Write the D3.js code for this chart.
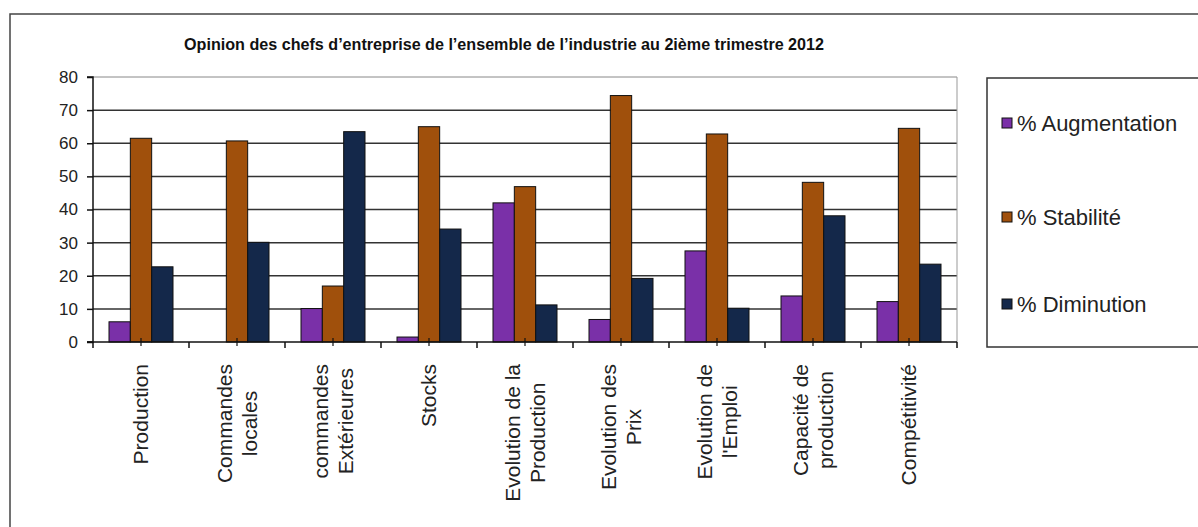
<!DOCTYPE html>
<html><head><meta charset="utf-8">
<script src="https://cdn.jsdelivr.net/npm/d3@7"></script>
<style>body{margin:0;background:#fff}svg{display:block}text{font-family:"Liberation Sans",Arial,sans-serif}</style>
</head><body>
<svg id="c" width="1198" height="527"></svg>
<script>
const title = "Opinion des chefs d\u2019entreprise de l\u2019ensemble de l\u2019industrie au 2ième trimestre 2012";
const categories = ["Production","Commandes locales","commandes Extérieures","Stocks","Evolution de la Production","Evolution des Prix","Evolution de l'Emploi","Capacité de production","Compétitivité"];
const categoryLines = [["Production"],["Commandes","locales"],["commandes","Extérieures"],["Stocks"],["Evolution de la","Production"],["Evolution des","Prix"],["Evolution de","l'Emploi"],["Capacité de","production"],["Compétitivité"]];
const seriesNames = ["% Augmentation","% Stabilité","% Diminution"];
const augmentation = [6.1, 0, 10.1, 1.5, 42, 6.8, 27.5, 13.9, 12.2];
const stabilite    = [61.5, 60.7, 16.9, 65, 46.9, 74.4, 62.8, 48.2, 64.5];
const diminution   = [22.7, 30.1, 63.5, 34.1, 11.2, 19.2, 10.2, 38.1, 23.5];
const yTicks = [0,10,20,30,40,50,60,70,80];
const colors = ["#7A30A8","#A0500C","#14284A"];

const svg = d3.select("#c");
const series = [augmentation, stabilite, diminution];
const L = 93, R = 957, T = 77, B = 342;

// outer border
svg.append("path").attr("d","M10,540 L10,14 L1210,14").attr("fill","none").attr("stroke","#444").attr("stroke-width",1.5);

svg.append("text").attr("x",504).attr("y",50).attr("text-anchor","middle")
  .attr("font-size",16).attr("font-weight","bold").attr("textLength",640).attr("lengthAdjust","spacingAndGlyphs")
  .attr("fill","#111").text(title);

const y = d3.scaleLinear().domain([0,80]).range([B,T]);
const x0 = d3.scaleBand().domain(categories).range([L,R]);
const x1 = d3.scaleBand().domain(seriesNames).range([x0.bandwidth()/6, x0.bandwidth()*5/6]);

// gridlines
svg.append("g").selectAll("line").data(yTicks.filter(d=>d>0)).join("line")
  .attr("x1",L).attr("x2",R).attr("y1",d=>y(d)).attr("y2",d=>y(d))
  .attr("stroke",d=>d===80?"#888":"#333").attr("stroke-width",d=>d===80?1:1.5);
svg.append("line").attr("x1",R).attr("x2",R).attr("y1",T).attr("y2",B).attr("stroke","#999").attr("stroke-width",1);

// bars
const g = svg.append("g");
categories.forEach((c,i)=>{
  series.forEach((s,j)=>{
    if (s[i] <= 0) return;
    g.append("rect").attr("x",x0(c)+x1(seriesNames[j])).attr("y",y(s[i]))
      .attr("width",x1.bandwidth()).attr("height",y(0)-y(s[i]))
      .attr("fill",colors[j]).attr("stroke","#111").attr("stroke-width",1);
  });
});

// y axis
const ya = d3.axisLeft(y).tickValues(yTicks).tickSize(6).tickPadding(9);
const yg = svg.append("g").attr("transform",`translate(${L},0)`).call(ya);
yg.select(".domain").attr("stroke","#111").attr("stroke-width",1.5).attr("d",`M-6,${T}H0V${B}H-6`);
yg.selectAll(".tick line").attr("stroke","#111").attr("stroke-width",1.5);
yg.selectAll(".tick text").attr("font-size",17).attr("fill","#222").style("font-family","'Liberation Sans',Arial,sans-serif");

// x axis
svg.append("line").attr("x1",L-6).attr("x2",R).attr("y1",B).attr("y2",B).attr("stroke","#111").attr("stroke-width",1.5);
const bounds = categories.map(c=>x0(c)).concat([R]);
svg.append("g").selectAll("line").data(bounds).join("line")
  .attr("x1",d=>d).attr("x2",d=>d).attr("y1",B).attr("y2",B+6).attr("stroke","#111").attr("stroke-width",1.5);
svg.append("g").selectAll("line").data(categories).join("line")
  .attr("x1",d=>x0(d)+x0.bandwidth()/2).attr("x2",d=>x0(d)+x0.bandwidth()/2).attr("y1",B-4).attr("y2",B+4).attr("stroke","#111").attr("stroke-width",1.2);

// category labels: lines centred on each other, block top-anchored
const lab = svg.append("g");
categories.forEach((c,i)=>{
  const cx = x0(c)+x0.bandwidth()/2;
  const lines = categoryLines[i];
  const t = lab.append("text").attr("transform",`translate(${cx},364) rotate(-90)`)
    .attr("text-anchor","middle").attr("font-size",21).attr("fill","#222");
  const spans = lines.map((ln,k)=>{
    const off = lines.length===1 ? 0 : (k===0 ? -12.5 : 12.5);
    return t.append("tspan").attr("y",off).attr("dy","0.35em").text(ln);
  });
  const maxLen = d3.max(spans, s=>s.node().getComputedTextLength());
  spans.forEach(s=>s.attr("x",-maxLen/2));
});

// legend
svg.append("path").attr("d","M1210,78 H987 V347 H1210").attr("fill","none").attr("stroke","#333").attr("stroke-width",1.5);
const ly = [131,225,312];
seriesNames.forEach((n,j)=>{
  svg.append("rect").attr("x",1002).attr("y",ly[j]-13).attr("width",10).attr("height",10)
    .attr("fill",colors[j]).attr("stroke","#111").attr("stroke-width",1);
  svg.append("text").attr("x",1017).attr("y",ly[j]).attr("font-size",22).attr("fill","#222").text(n);
});
</script>
</body></html>
